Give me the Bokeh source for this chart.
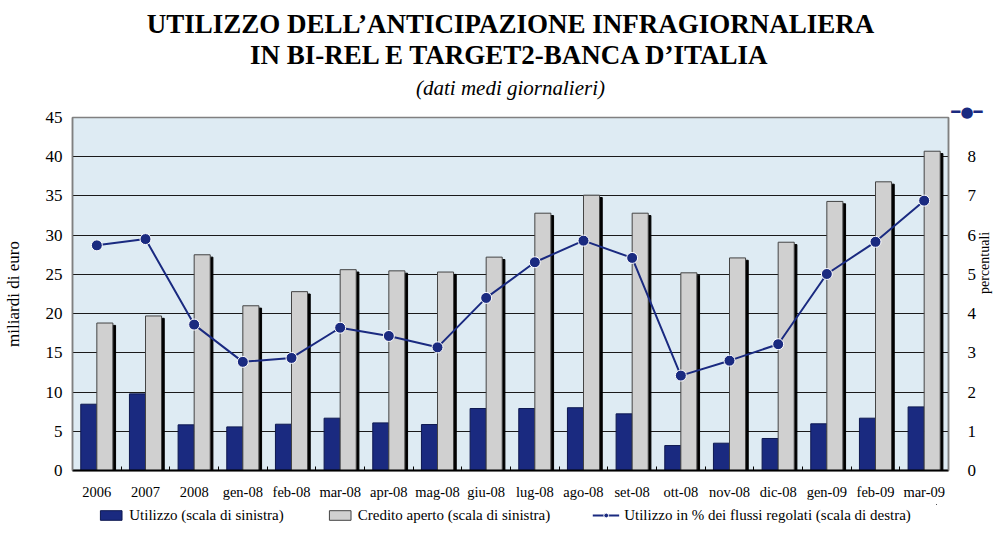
import math
from bokeh.plotting import figure
from bokeh.layouts import column
from bokeh.models import (ColumnDataSource, Range1d, LinearAxis, FixedTicker,
                          Legend, LegendItem, Title)
from bokeh.transform import dodge
from bokeh.embed import file_html
from bokeh.resources import INLINE

categories = ["2006", "2007", "2008", "gen-08", "feb-08", "mar-08", "apr-08",
              "mag-08", "giu-08", "lug-08", "ago-08", "set-08", "ott-08",
              "nov-08", "dic-08", "gen-09", "feb-09", "mar-09"]
utilizzo = [8.45, 9.77, 5.82, 5.56, 5.9, 6.67, 6.07, 5.86, 7.9, 7.9, 8.0,
            7.22, 3.18, 3.48, 4.08, 5.95, 6.67, 8.11]
credito = [18.8, 19.7, 27.5, 21.0, 22.8, 25.6, 25.45, 25.3, 27.2, 32.8, 35.1,
           32.8, 25.2, 27.1, 29.1, 34.3, 36.8, 40.7]
percentuale = [5.74, 5.9, 3.72, 2.77, 2.87, 3.64, 3.43, 3.14, 4.4, 5.31, 5.86,
               5.42, 2.42, 2.80, 3.22, 5.01, 5.83, 6.88]
left_ticks = [0, 5, 10, 15, 20, 25, 30, 35, 40, 45]
right_ticks = [0, 1, 2, 3, 4, 5, 6, 7, 8, 9]
legend_labels = ["Utilizzo (scala di sinistra)",
                 "Credito aperto (scala di sinistra)",
                 "Utilizzo in % dei flussi regolati (scala di destra)"]

FONT = "Liberation Serif"
NAVY = "#1a2a80"
GREY = "#d0d0d0"
BG = "#deebf3"

idx = list(range(len(categories)))
src = ColumnDataSource(dict(idx=idx, cat=categories, uti=utilizzo, cred=credito,
                            shadow=[c - 0.3 for c in credito], pct=percentuale))

p = figure(frame_width=876, frame_height=353, output_backend="svg",
           toolbar_location=None, title=None,
           x_range=Range1d(-0.5, len(categories) - 0.5),
           y_range=Range1d(0, 45), min_border_left=69, min_border_right=49,
           min_border_top=0, min_border_bottom=34,
           background_fill_color=BG, border_fill_color="white")
p.outline_line_color = "#808080"
p.outline_line_width = 1.5
p.extra_y_ranges = {"pct": Range1d(0, 9)}

# bars
p.vbar(x=dodge("idx", 0.22, range=p.x_range), top="shadow", width=0.33,
       source=src, fill_color="black", line_color="black")
r_uti = p.vbar(x=dodge("idx", -0.165, range=p.x_range), top="uti", width=0.33,
               source=src, fill_color=NAVY, line_color="#0d1850", line_width=1)
r_cred = p.vbar(x=dodge("idx", 0.165, range=p.x_range), top="cred", width=0.33,
                source=src, fill_color=GREY, line_color="#444444", line_width=1)
# line
r_line = p.line(x="idx", y="pct", source=src, y_range_name="pct",
                line_color=NAVY, line_width=2)
r_pts = p.scatter(x="idx", y="pct", source=src, y_range_name="pct", size=11,
                  fill_color=NAVY, line_color="white", line_width=1)

# axes
p.xaxis.ticker = FixedTicker(ticks=idx, minor_ticks=[i - 0.5 for i in idx[1:]])
p.xaxis.major_label_overrides = {i: c for i, c in zip(idx, categories)}
p.xaxis.major_tick_in = 0
p.xaxis.major_tick_out = 0
p.xaxis.minor_tick_in = 4
p.xaxis.minor_tick_out = 0
p.xaxis.minor_tick_line_color = "black"
p.xaxis.axis_line_color = "black"
p.xaxis.axis_line_width = 2
p.xaxis.major_label_text_font = FONT
p.xaxis.major_label_text_font_size = "14.5px"
p.xaxis.major_label_text_color = "black"
p.xaxis.major_label_standoff = 13

p.yaxis.ticker = FixedTicker(ticks=left_ticks)
p.yaxis.major_tick_in = 0
p.yaxis.major_tick_out = 0
p.yaxis.minor_tick_line_color = None
p.yaxis.axis_line_color = "#808080"
p.yaxis.axis_line_width = 1.5
p.yaxis.major_label_text_font = FONT
p.yaxis.major_label_text_font_size = "17px"
p.yaxis.major_label_text_color = "black"
p.yaxis.major_label_standoff = 10
p.yaxis.axis_label = "miliardi di euro"
p.yaxis.axis_label_text_font = FONT
p.yaxis.axis_label_text_font_style = "normal"
p.yaxis.axis_label_text_font_size = "17px"
p.yaxis.axis_label_text_color = "black"
p.yaxis.axis_label_standoff = 20

ax2 = LinearAxis(y_range_name="pct", ticker=FixedTicker(ticks=right_ticks),
                 axis_label="percentuali")
ax2.major_label_overrides = {9: ""}
ax2.major_tick_in = 0
ax2.major_tick_out = 0
ax2.minor_tick_line_color = None
ax2.axis_line_color = "#808080"
ax2.axis_line_width = 1.5
ax2.major_label_text_font = FONT
ax2.major_label_text_font_size = "17px"
ax2.major_label_text_color = "black"
ax2.major_label_standoff = 19
ax2.axis_label_text_font = FONT
ax2.axis_label_text_font_style = "normal"
ax2.axis_label_text_font_size = "14px"
ax2.axis_label_text_color = "black"
ax2.axis_label_standoff = 5
ax2.axis_label_orientation = math.pi / 2
p.add_layout(ax2, "right")

p.xgrid.grid_line_color = None
p.ygrid.ticker = FixedTicker(ticks=left_ticks[1:-1])
p.ygrid.grid_line_color = "#1a1a1a"
p.ygrid.grid_line_width = 1


def make_title(standoff, **kw):
    try:
        return Title(standoff=standoff, **kw)
    except Exception:
        return Title(standoff=0, **kw)


# titles (added innermost first); first the line-series key at top right
p.add_layout(make_title(-6, text="\u2501\u25cf\u2501", align="right", offset=-34,
                        text_font="DejaVu Sans", text_color=NAVY,
                        text_font_size="15px"), "above")
p.add_layout(make_title(8, text="(dati medi giornalieri)", align="center",
                        text_font=FONT, text_font_style="italic",
                        text_color="black", text_font_size="21px"), "above")
p.add_layout(make_title(0, text="IN BI-REL E TARGET2-BANCA D\u2019ITALIA",
                        align="center", text_font=FONT, text_font_style="bold",
                        text_color="black", text_font_size="27px"), "above")
p.add_layout(make_title(-2, text="UTILIZZO DELL\u2019ANTICIPAZIONE INFRAGIORNALIERA",
                        align="center", text_font=FONT, text_font_style="bold",
                        text_color="black", text_font_size="27px"), "above")
# small blank spacer row above the title
p.add_layout(make_title(0, text="\u00a0", align="center", text_font=FONT,
                        text_color="white", text_font_size="4px"), "above")

# legend strip below the chart (key glyphs reuse the data, outside its view)
lp = figure(width=990, height=22, output_backend="svg", toolbar_location=None,
            min_border=0, min_border_left=0, min_border_right=0,
            min_border_top=0, min_border_bottom=0,
            x_axis_location=None, y_axis_location=None,
            x_range=Range1d(-100, -99), y_range=Range1d(-100, -99),
            background_fill_color="white", border_fill_color="white")
lp.outline_line_color = None
lp.grid.visible = False
k_uti = lp.vbar(x="idx", top="uti", source=src, width=0.33, fill_color=NAVY,
                line_color="#0d1850")
k_cred = lp.vbar(x="idx", top="cred", source=src, width=0.33, fill_color=GREY,
                 line_color="#444444")
k_line = lp.line(x="idx", y="pct", source=src, line_color=NAVY, line_width=2)
k_pts = lp.scatter(x="idx", y="pct", source=src, size=11, fill_color=NAVY,
                   line_color="white")
leg = Legend(items=[
    LegendItem(label=legend_labels[0], renderers=[k_uti]),
    LegendItem(label=legend_labels[1], renderers=[k_cred]),
    LegendItem(label=legend_labels[2], renderers=[k_line, k_pts]),
], orientation="horizontal", location="center", spacing=42,
    glyph_width=27, glyph_height=12, label_standoff=5, padding=0, margin=0,
    label_height=20, border_line_color=None, background_fill_alpha=0,
    label_text_font=FONT, label_text_font_size="15px",
    label_text_color="black")
lp.add_layout(leg, "center")

open("out.html", "w").write(file_html(column(p, lp, spacing=0), INLINE))
